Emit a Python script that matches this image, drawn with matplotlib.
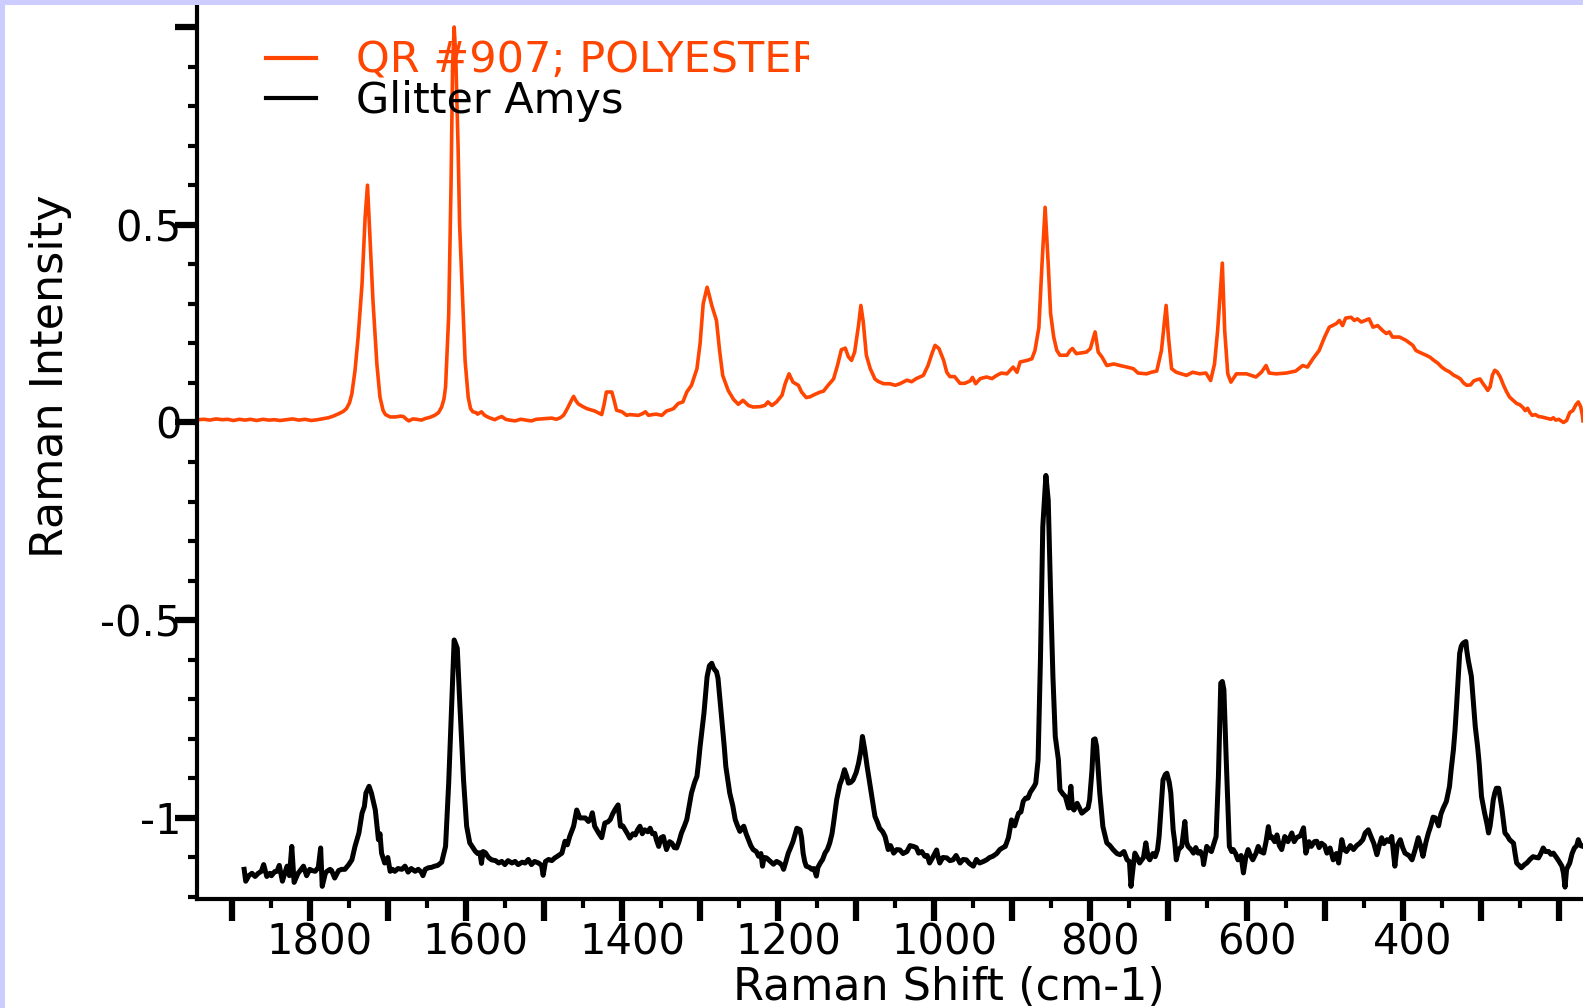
import matplotlib
matplotlib.use('Agg')
import matplotlib.pyplot as plt
from matplotlib.ticker import MultipleLocator, FuncFormatter
from matplotlib.transforms import ScaledTranslation, Bbox, TransformedBbox, IdentityTransform
from matplotlib.patches import Rectangle

# ---------------- data ----------------
series_names = ['QR #907; POLYESTER', 'Glitter Amys']

orange_shift = [
    1944, 1935, 1928, 1920, 1912, 1905, 1898, 1890, 1883, 1876,
    1868, 1860, 1852, 1845, 1838, 1830, 1822, 1814, 1806, 1798,
    1790, 1782, 1776, 1770, 1763, 1757, 1753, 1749, 1746, 1742,
    1738, 1733, 1729, 1726, 1723, 1719, 1714, 1710, 1706, 1703,
    1697, 1690, 1684, 1680, 1676, 1673, 1668, 1663, 1657, 1652,
    1646, 1640, 1635, 1631, 1628, 1626, 1622, 1619, 1617, 1615,
    1613, 1610, 1608, 1605, 1601, 1597, 1594, 1591, 1587, 1585,
    1580, 1576, 1570, 1563, 1558, 1554, 1549, 1544, 1537, 1530,
    1526, 1520, 1516, 1510, 1503, 1496, 1490, 1484, 1479, 1475,
    1472, 1469, 1465, 1462, 1459, 1456, 1450, 1445, 1440, 1435,
    1430, 1426, 1423, 1420, 1416, 1413, 1410, 1407, 1400, 1394,
    1390, 1385, 1379, 1374, 1370, 1366, 1361, 1356, 1349, 1343,
    1338, 1334, 1328, 1322, 1317, 1311, 1304, 1300, 1296, 1291,
    1288, 1285, 1279, 1275, 1271, 1264, 1257, 1251, 1245, 1238,
    1232, 1223, 1217, 1213, 1208, 1202, 1195, 1191, 1186, 1181,
    1174, 1170, 1164, 1159, 1153, 1146, 1142, 1136, 1129, 1124,
    1119, 1114, 1110, 1106, 1102, 1097, 1094, 1091, 1087, 1082,
    1076, 1072, 1065, 1057, 1050, 1044, 1035, 1029, 1023, 1014,
    1008, 1003, 999, 994, 988, 984, 980, 974, 967, 961,
    954, 951, 947, 941, 933, 926, 920, 914, 907, 899,
    894, 890, 881, 875, 871, 866, 862, 858, 854, 851,
    847, 843, 839, 830, 826, 823, 818, 805, 800, 794,
    790, 785, 779, 770, 762, 753, 745, 739, 728, 722,
    715, 709, 703, 700, 696, 690, 677, 669, 660, 652,
    646, 641, 637, 631, 628, 624, 620, 613, 600, 588,
    581, 575, 571, 562, 549, 537, 528, 522, 515, 507,
    500, 494, 485, 481, 477, 473, 466, 462, 458, 453,
    443, 438, 432, 426, 421, 417, 413, 404, 396, 387,
    383, 379, 370, 365, 360, 355, 350, 345, 340, 335,
    330, 326, 322, 318, 313, 309, 305, 301, 297, 294,
    291, 288, 285, 282, 279, 275, 271, 267, 263, 258,
    254, 250, 246, 243, 240, 237, 234, 230, 226, 222,
    218, 214, 210, 207, 204, 200, 197, 194, 190, 186,
    182, 178, 175, 172, 170, 169]

orange_int = [
    0.007, 0.008, 0.006, 0.009, 0.007, 0.008, 0.005, 0.008, 0.006, 0.008,
    0.005, 0.008, 0.006, 0.007, 0.005, 0.007, 0.009, 0.006, 0.008, 0.005,
    0.007, 0.010, 0.012, 0.016, 0.022, 0.028, 0.035, 0.050, 0.073, 0.131,
    0.216, 0.350, 0.520, 0.600, 0.477, 0.308, 0.148, 0.064, 0.030, 0.020,
    0.014, 0.014, 0.016, 0.015, 0.008, 0.004, 0.009, 0.008, 0.006, 0.010,
    0.013, 0.018, 0.025, 0.039, 0.060, 0.090, 0.270, 0.600, 0.900, 1.000,
    0.930, 0.700, 0.500, 0.350, 0.157, 0.064, 0.035, 0.027, 0.025, 0.021,
    0.027, 0.018, 0.012, 0.007, 0.012, 0.015, 0.008, 0.006, 0.004, 0.008,
    0.007, 0.005, 0.004, 0.008, 0.009, 0.010, 0.011, 0.008, 0.012, 0.018,
    0.028, 0.039, 0.055, 0.066, 0.055, 0.047, 0.040, 0.035, 0.032, 0.029,
    0.024, 0.020, 0.045, 0.077, 0.077, 0.077, 0.055, 0.031, 0.027, 0.018,
    0.020, 0.019, 0.018, 0.022, 0.027, 0.018, 0.020, 0.021, 0.018, 0.029,
    0.032, 0.035, 0.048, 0.052, 0.077, 0.094, 0.136, 0.199, 0.300, 0.342,
    0.320, 0.296, 0.258, 0.182, 0.119, 0.081, 0.058, 0.046, 0.056, 0.043,
    0.039, 0.040, 0.043, 0.052, 0.043, 0.052, 0.069, 0.098, 0.123, 0.102,
    0.094, 0.077, 0.063, 0.065, 0.071, 0.077, 0.079, 0.094, 0.110, 0.144,
    0.184, 0.188, 0.166, 0.157, 0.178, 0.246, 0.296, 0.255, 0.170, 0.136,
    0.110, 0.104, 0.098, 0.098, 0.094, 0.098, 0.107, 0.103, 0.111, 0.119,
    0.144, 0.174, 0.195, 0.187, 0.157, 0.127, 0.116, 0.116, 0.099, 0.099,
    0.105, 0.114, 0.098, 0.111, 0.115, 0.111, 0.119, 0.125, 0.123, 0.140,
    0.127, 0.153, 0.157, 0.161, 0.182, 0.240, 0.400, 0.544, 0.400, 0.276,
    0.216, 0.182, 0.170, 0.170, 0.182, 0.187, 0.174, 0.178, 0.187, 0.229,
    0.178, 0.165, 0.144, 0.148, 0.144, 0.140, 0.136, 0.125, 0.123, 0.127,
    0.130, 0.182, 0.296, 0.216, 0.136, 0.127, 0.119, 0.127, 0.123, 0.125,
    0.106, 0.148, 0.233, 0.403, 0.233, 0.123, 0.102, 0.123, 0.123, 0.115,
    0.127, 0.144, 0.125, 0.123, 0.125, 0.130, 0.144, 0.140, 0.161, 0.182,
    0.216, 0.241, 0.250, 0.258, 0.245, 0.264, 0.266, 0.258, 0.262, 0.254,
    0.262, 0.241, 0.245, 0.233, 0.225, 0.229, 0.216, 0.216, 0.208, 0.195,
    0.182, 0.178, 0.170, 0.165, 0.157, 0.150, 0.140, 0.133, 0.128, 0.120,
    0.115, 0.110, 0.100, 0.094, 0.095, 0.105, 0.108, 0.110, 0.098, 0.090,
    0.081, 0.090, 0.120, 0.132, 0.128, 0.115, 0.095, 0.078, 0.064, 0.055,
    0.048, 0.045, 0.038, 0.030, 0.036, 0.025, 0.018, 0.020, 0.015, 0.014,
    0.012, 0.010, 0.008, 0.012, 0.006, 0.008, 0.004, 0.000, 0.005, 0.025,
    0.030, 0.045, 0.052, 0.040, 0.020, 0.004]

glitter_shift = [
    1884, 1882, 1878, 1874, 1870, 1866, 1862, 1859, 1855, 1851,
    1849, 1845, 1842, 1839, 1835, 1832, 1829, 1826, 1823, 1820,
    1815, 1811, 1808, 1804, 1800, 1797, 1793, 1789, 1786, 1784,
    1780, 1778, 1774, 1772, 1768, 1763, 1759, 1755, 1750, 1746,
    1742, 1737, 1733, 1730, 1728, 1724, 1721, 1716, 1712, 1710,
    1708, 1704, 1700, 1697, 1694, 1691, 1687, 1682, 1678, 1674,
    1670, 1665, 1661, 1657, 1655, 1652, 1648, 1644, 1640, 1636,
    1631, 1626, 1622, 1618, 1615, 1613, 1611, 1608, 1603, 1599,
    1595, 1591, 1588, 1585, 1582, 1580, 1578, 1575, 1571, 1567,
    1562, 1558, 1554, 1550, 1546, 1541, 1537, 1533, 1528, 1524,
    1520, 1516, 1512, 1507, 1503, 1501, 1498, 1494, 1490, 1486,
    1482, 1477, 1473, 1470, 1467, 1462, 1460, 1458, 1454, 1450,
    1447, 1443, 1440, 1438, 1435, 1430, 1426, 1422, 1418, 1415,
    1412, 1409, 1405, 1402, 1399, 1396, 1393, 1390, 1386, 1383,
    1380, 1377, 1374, 1371, 1367, 1364, 1361, 1358, 1356, 1353,
    1350, 1347, 1345, 1343, 1339, 1336, 1333, 1330, 1327, 1324,
    1320, 1317, 1314, 1311, 1307, 1304, 1302, 1300, 1297, 1295,
    1293, 1291, 1288, 1285, 1283, 1281, 1279, 1277, 1275, 1272,
    1269, 1267, 1264, 1262, 1258, 1255, 1252, 1249, 1246, 1244,
    1241, 1238, 1235, 1232, 1228, 1225, 1222, 1220, 1218, 1215,
    1211, 1206, 1202, 1198, 1195, 1193, 1190, 1187, 1184, 1181,
    1178, 1176, 1172, 1170, 1168, 1166, 1164, 1160, 1157, 1154,
    1151, 1149, 1146, 1143, 1140, 1137, 1134, 1131, 1129, 1125,
    1121, 1118, 1115, 1112, 1110, 1107, 1104, 1100, 1097, 1094,
    1092, 1089, 1086, 1084, 1080, 1076, 1073, 1070, 1066, 1063,
    1059, 1056, 1052, 1048, 1044, 1040, 1035, 1031, 1027, 1023,
    1020, 1016, 1012, 1009, 1006, 1002, 997, 995, 993, 989,
    984, 980, 976, 972, 967, 963, 959, 955, 950, 946,
    942, 937, 933, 929, 925, 920, 916, 912, 909, 905,
    901, 897, 894, 892, 889, 886, 883, 880, 877, 875,
    872, 870, 867, 864, 861, 857, 854, 851, 848, 845,
    841, 839, 835, 832, 828, 825, 823, 821, 817, 814,
    811, 806, 803, 801, 798, 796, 794, 792, 790, 788,
    784, 779, 775, 771, 766, 762, 757, 753, 750, 748,
    745, 743, 740, 737, 732, 729, 726, 724, 720, 717,
    714, 712, 709, 707, 704, 702, 699, 697, 694, 692,
    690, 687, 683, 679, 677, 675, 671, 668, 665, 662,
    659, 656, 655, 651, 648, 645, 641, 639, 636, 633,
    631, 629, 626, 622, 619, 617, 614, 611, 607, 604,
    601, 598, 595, 592, 588, 585, 582, 578, 575, 572,
    570, 568, 564, 561, 558, 555, 551, 547, 542, 539,
    536, 531, 527, 524, 520, 517, 513, 510, 507, 504,
    500, 497, 493, 489, 485, 482, 478, 475, 472, 467,
    463, 459, 455, 451, 448, 444, 440, 437, 433, 430,
    427, 424, 420, 417, 414, 410, 407, 403, 400, 397,
    392, 388, 384, 380, 377, 374, 370, 367, 364, 361,
    358, 354, 351, 348, 344, 340, 338, 335, 333, 331,
    329, 327, 325, 323, 321, 319, 318, 316, 312, 309,
    307, 304, 302, 299, 295, 292, 290, 288, 286, 284,
    282, 280, 277, 275, 273, 269, 266, 263, 258, 256,
    254, 251, 248, 244, 241, 237, 233, 229, 226, 223,
    220, 217, 213, 210, 207, 203, 200, 196, 194, 192,
    190, 186, 183, 180, 177, 175, 172, 169]

glitter_int = [
    -1.130, -1.160, -1.146, -1.140, -1.148, -1.140, -1.135, -1.118, -1.148, -1.140,
    -1.146, -1.136, -1.135, -1.120, -1.160, -1.140, -1.122, -1.146, -1.072, -1.163,
    -1.140, -1.130, -1.122, -1.146, -1.130, -1.133, -1.135, -1.125, -1.076, -1.173,
    -1.140, -1.135, -1.130, -1.133, -1.152, -1.133, -1.130, -1.130, -1.118, -1.106,
    -1.072, -1.038, -0.988, -0.971, -0.937, -0.920, -0.937, -0.980, -1.055, -1.040,
    -1.089, -1.114, -1.100, -1.135, -1.130, -1.135, -1.128, -1.130, -1.122, -1.137,
    -1.128, -1.135, -1.130, -1.137, -1.146, -1.130, -1.126, -1.125, -1.122, -1.120,
    -1.112, -1.072, -0.912, -0.701, -0.550, -0.560, -0.571, -0.701, -0.903, -1.021,
    -1.063, -1.075, -1.084, -1.090, -1.088, -1.115, -1.085, -1.088, -1.100, -1.106,
    -1.108, -1.114, -1.110, -1.118, -1.108, -1.114, -1.110, -1.118, -1.112, -1.114,
    -1.105, -1.118, -1.110, -1.114, -1.120, -1.145, -1.110, -1.105, -1.108, -1.101,
    -1.096, -1.089, -1.059, -1.068, -1.047, -1.021, -1.000, -0.980, -1.000, -1.000,
    -1.000, -1.009, -1.000, -0.987, -1.021, -1.038, -1.050, -1.013, -1.010, -1.004,
    -0.990, -0.979, -0.967, -1.021, -1.020, -1.030, -1.040, -1.051, -1.040, -1.043,
    -1.030, -1.021, -1.040, -1.030, -1.035, -1.026, -1.040, -1.039, -1.055, -1.072,
    -1.050, -1.047, -1.065, -1.080, -1.060, -1.064, -1.075, -1.076, -1.060, -1.039,
    -1.020, -1.004, -0.970, -0.937, -0.910, -0.895, -0.860, -0.820, -0.770, -0.735,
    -0.690, -0.643, -0.615, -0.609, -0.620, -0.626, -0.630, -0.647, -0.690, -0.752,
    -0.820, -0.870, -0.910, -0.937, -0.970, -1.004, -1.020, -1.034, -1.025, -1.021,
    -1.040, -1.055, -1.070, -1.080, -1.085, -1.097, -1.090, -1.122, -1.100, -1.101,
    -1.108, -1.117, -1.110, -1.114, -1.120, -1.130, -1.110, -1.089, -1.075, -1.060,
    -1.040, -1.026, -1.030, -1.050, -1.089, -1.110, -1.122, -1.125, -1.130, -1.128,
    -1.147, -1.125, -1.114, -1.105, -1.089, -1.080, -1.064, -1.040, -1.013, -0.954,
    -0.916, -0.900, -0.878, -0.895, -0.912, -0.910, -0.904, -0.885, -0.862, -0.830,
    -0.794, -0.828, -0.870, -0.895, -0.946, -0.996, -1.010, -1.026, -1.035, -1.047,
    -1.080, -1.070, -1.089, -1.080, -1.081, -1.090, -1.085, -1.070, -1.072, -1.075,
    -1.089, -1.085, -1.097, -1.095, -1.114, -1.100, -1.081, -1.100, -1.114, -1.100,
    -1.101, -1.108, -1.106, -1.095, -1.114, -1.105, -1.106, -1.115, -1.122, -1.105,
    -1.114, -1.110, -1.106, -1.100, -1.097, -1.090, -1.080, -1.075, -1.072, -1.050,
    -1.005, -1.020, -1.000, -0.988, -0.985, -0.958, -0.950, -0.950, -0.935, -0.929,
    -0.920, -0.912, -0.853, -0.600, -0.264, -0.134, -0.197, -0.432, -0.643, -0.794,
    -0.853, -0.929, -0.940, -0.946, -0.975, -0.920, -0.975, -0.980, -0.963, -0.975,
    -0.988, -0.980, -0.975, -0.954, -0.880, -0.802, -0.800, -0.820, -0.880, -0.937,
    -1.022, -1.063, -1.070, -1.080, -1.090, -1.093, -1.085, -1.106, -1.110, -1.173,
    -1.120, -1.089, -1.100, -1.114, -1.100, -1.063, -1.100, -1.106, -1.090, -1.098,
    -1.080, -1.047, -0.960, -0.904, -0.890, -0.887, -0.910, -0.937, -1.030, -1.060,
    -1.106, -1.080, -1.072, -1.009, -1.060, -1.072, -1.080, -1.089, -1.075, -1.089,
    -1.085, -1.100, -1.118, -1.072, -1.080, -1.085, -1.060, -1.047, -0.895, -0.659,
    -0.655, -0.676, -0.853, -1.072, -1.085, -1.080, -1.090, -1.106, -1.095, -1.139,
    -1.100, -1.080, -1.095, -1.106, -1.090, -1.072, -1.085, -1.089, -1.060, -1.022,
    -1.050, -1.047, -1.060, -1.043, -1.070, -1.080, -1.047, -1.060, -1.038, -1.060,
    -1.050, -1.045, -1.025, -1.089, -1.060, -1.072, -1.060, -1.059, -1.075, -1.064,
    -1.070, -1.089, -1.076, -1.106, -1.090, -1.114, -1.055, -1.080, -1.085, -1.070,
    -1.080, -1.070, -1.064, -1.055, -1.038, -1.030, -1.050, -1.064, -1.093, -1.070,
    -1.050, -1.065, -1.055, -1.060, -1.047, -1.122, -1.070, -1.055, -1.075, -1.089,
    -1.095, -1.106, -1.080, -1.050, -1.070, -1.097, -1.060, -1.038, -1.020, -0.998,
    -1.000, -1.020, -0.990, -0.975, -0.958, -0.920, -0.880, -0.828, -0.780, -0.718,
    -0.650, -0.584, -0.566, -0.559, -0.556, -0.554, -0.575, -0.601, -0.642, -0.720,
    -0.769, -0.820, -0.862, -0.946, -0.988, -1.015, -1.038, -1.020, -0.990, -0.955,
    -0.937, -0.925, -0.925, -0.950, -0.975, -1.038, -1.045, -1.055, -1.064, -1.090,
    -1.114, -1.120, -1.126, -1.118, -1.114, -1.105, -1.098, -1.100, -1.101, -1.090,
    -1.076, -1.085, -1.085, -1.092, -1.089, -1.100, -1.109, -1.122, -1.140, -1.175,
    -1.130, -1.114, -1.090, -1.076, -1.070, -1.055, -1.070, -1.072]

x_labelled_ticks = [1800, 1600, 1400, 1200, 1000, 800, 600, 400]
y_tick_values = [-1.0, -0.5, 0.0, 0.5]
y_tick_texts = ['-1', '-0.5', '0', '0.5']

assert len(orange_shift) == len(orange_int)
assert len(glitter_shift) == len(glitter_int)

# ---------------- figure ----------------
W, H = 1583, 1008
ORANGE = '#FF4500'
plt.rcParams['font.family'] = ['DejaVu Sans']

fig = plt.figure(figsize=(W / 100, H / 100), dpi=100)
fig.patches.append(Rectangle((0, 1 - 5 / H), 1, 5 / H, transform=fig.transFigure,
                             facecolor='#CCCCFF', edgecolor='none', zorder=0))
fig.patches.append(Rectangle((0, 0), 5 / W, 1, transform=fig.transFigure,
                             facecolor='#CCCCFF', edgecolor='none', zorder=0))

left, bottom, top = 197, 109, 7
ax = fig.add_axes([left / W, bottom / H, 1 - left / W, 1 - (top + bottom) / H])
ax.patch.set_alpha(0)

ax.plot(orange_shift, orange_int, color=ORANGE, lw=2.6, label=series_names[0])
ax.plot(glitter_shift, glitter_int, color='black', lw=3.6, label=series_names[1])

ax.set_xlim(1944.4, 169)
ax.set_ylim(-1.205, 1.0506)

for s in ('top', 'right'):
    ax.spines[s].set_visible(False)
for s in ('left', 'bottom'):
    ax.spines[s].set_linewidth(3)

ax.xaxis.set_major_locator(MultipleLocator(100))
ax.xaxis.set_minor_locator(MultipleLocator(50))
ax.xaxis.set_major_formatter(FuncFormatter(
    lambda v, p: str(int(round(v))) if int(round(v)) in x_labelled_ticks else ''))
ax.yaxis.set_major_locator(MultipleLocator(0.5))
ax.yaxis.set_minor_locator(MultipleLocator(0.1))


def yfmt(v, p):
    for tv, tt in zip(y_tick_values, y_tick_texts):
        if abs(v - tv) < 1e-6:
            return tt
    return ''


ax.yaxis.set_major_formatter(FuncFormatter(yfmt))

ax.tick_params(which='major', direction='out', length=16, width=4.5,
               labelsize=30, color='black')
ax.tick_params(which='minor', direction='out', length=6.5, width=3)
ax.tick_params(axis='y', which='major', pad=-5)
ax.tick_params(axis='x', which='major', pad=0)

# Origin places the x tick labels slightly right of their ticks
for t in ax.xaxis.get_major_ticks():
    t.label1.set_transform(t.label1.get_transform() +
                           ScaledTranslation(0.10, 0, fig.dpi_scale_trans))

ax.set_xlabel('Raman Shift (cm-1)', fontsize=32, va='center')
ax.xaxis.set_label_coords((949 - left) / (W - left), ((H - 987) - bottom) / (H - top - bottom))
ax.set_ylabel('Raman Intensity', fontsize=32, va='center')
ax.yaxis.set_label_coords((51 - left) / (W - left), ((H - 376) - bottom) / (H - top - bottom))

lfs = 31
em = lfs * 100 / 72
leg = ax.legend(loc='upper left', bbox_to_anchor=(266 / W, 1 - 40 / H),
                bbox_transform=fig.transFigure, frameon=False, fontsize=lfs,
                handlelength=50 / em, handletextpad=40 / em, labelspacing=-0.05,
                borderpad=0, borderaxespad=0)
leg.get_texts()[0].set_color(ORANGE)
for h in leg.legend_handles:
    h.set_linewidth(3.0)

# the first legend entry is cut off at its last letter in the original
fig.canvas.draw()
t0 = leg.get_texts()[0]
bb = t0.get_window_extent()
clip_x = bb.x1 - 0.40 * 0.695 * em
t0.set_clip_box(TransformedBbox(Bbox.from_extents(0, 0, clip_x, H), IdentityTransform()))
t0.set_clip_on(True)

fig.savefig('out.png', dpi=100)
